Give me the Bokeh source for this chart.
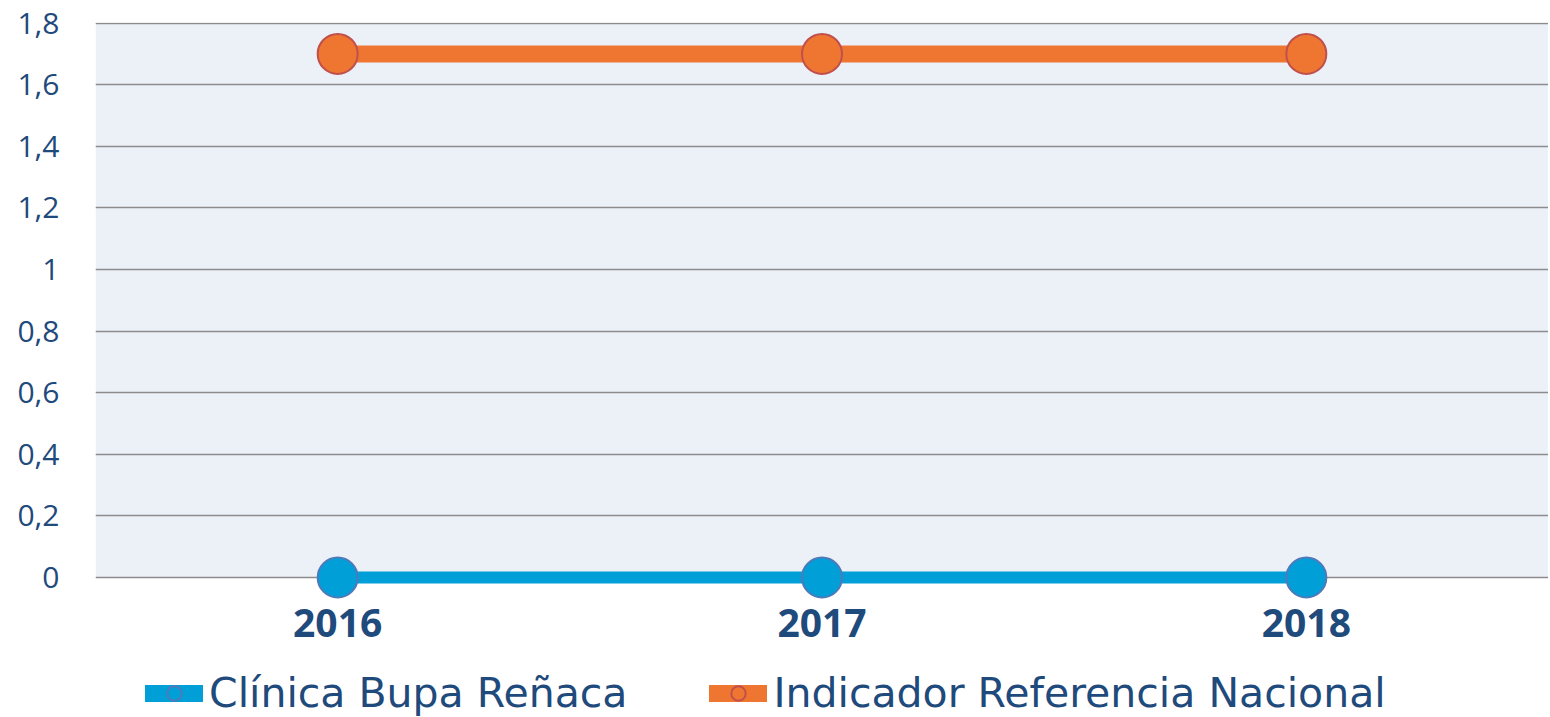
from bokeh.plotting import figure
from bokeh.layouts import column
from bokeh.models import Range1d, FixedTicker, BoxAnnotation, Legend, LegendItem, ColumnDataSource
from bokeh.embed import file_html
from bokeh.resources import INLINE

years = ["2016", "2017", "2018"]
clinica = [0, 0, 0]
referencia = [1.7, 1.7, 1.7]
y_ticks = [0, 0.2, 0.4, 0.6, 0.8, 1, 1.2, 1.4, 1.6, 1.8]
y_labels = ["0", "0,2", "0,4", "0,6", "0,8", "1", "1,2", "1,4", "1,6", "1,8"]
names = ["Clínica Bupa Reñaca", "Indicador Referencia Nacional"]

FONT = "Open Sans"
TXT = "#1F4A7C"
BLUE = "#009FD8"
ORANGE = "#EE7630"
BLUE_EDGE = "#4F79B9"
ORANGE_EDGE = "#C0504D"

p = figure(frame_width=1453, frame_height=578, x_range=years, y_range=Range1d(-0.0746, 1.802),
           output_backend="svg", toolbar_location=None,
           min_border_left=95, min_border_right=0, min_border_top=22, min_border_bottom=53)
p.outline_line_color = None
p.background_fill_color = "white"
p.add_layout(BoxAnnotation(bottom=0, top=1.8, fill_color="#ECF1F8", fill_alpha=1,
                           line_color=None, level="image"))

p.xgrid.grid_line_color = None
p.ygrid.grid_line_color = "#8C8C8C"
p.ygrid.grid_line_width = 1.6
p.yaxis.ticker = FixedTicker(ticks=y_ticks)
p.yaxis.major_label_overrides = {t: l for t, l in zip(y_ticks, y_labels)}
for ax in (p.xaxis, p.yaxis):
    ax.axis_line_color = None
    ax.major_tick_line_color = None
    ax.minor_tick_line_color = None
    ax.major_label_text_color = TXT
    ax.major_label_text_font = FONT
p.yaxis.major_label_text_font_size = "30px"
p.yaxis.major_label_standoff = 30
p.xaxis.major_label_text_font_size = "39px"
p.xaxis.major_label_text_font_style = "bold"
p.xaxis.major_label_standoff = 2

src = ColumnDataSource(dict(x=years, c=clinica, r=referencia))
p.line("x", "c", source=src, line_color=BLUE, line_width=12)
p.scatter("x", "c", source=src, size=40, fill_color=BLUE, line_color=BLUE_EDGE, line_width=2)
p.line("x", "r", source=src, line_color=ORANGE, line_width=17)
p.scatter("x", "r", source=src, size=40, fill_color=ORANGE, line_color=ORANGE_EDGE, line_width=2)

# legend strip below the chart (its series sit outside its visible range; only the legend shows)
lg = figure(frame_width=1548, frame_height=64, x_range=years, y_range=Range1d(5, 6),
            x_axis_type=None, y_axis_type=None, output_backend="svg", toolbar_location=None,
            min_border=0)
lg.outline_line_color = None
g1 = lg.line("x", "c", source=src, line_color=BLUE, line_width=17, line_cap="round")
m1 = lg.scatter("x", "c", source=src, size=24, fill_color=BLUE, line_color=BLUE_EDGE, line_width=2)
g2 = lg.line("x", "r", source=src, line_color=ORANGE, line_width=17, line_cap="round")
m2 = lg.scatter("x", "r", source=src, size=24, fill_color=ORANGE, line_color=ORANGE_EDGE, line_width=2)

legend = Legend(items=[LegendItem(label=names[0], renderers=[g1, m1]),
                       LegendItem(label=names[1], renderers=[g2, m2])],
                orientation="horizontal", location=(145, 0),
                label_text_font="DejaVu Sans", label_text_font_size="41px", label_text_color=TXT,
                glyph_width=58, glyph_height=36, spacing=82, label_standoff=6,
                border_line_color=None, background_fill_alpha=0, padding=0, margin=0)
lg.add_layout(legend, "center")

open("out.html", "w").write(file_html(column(p, lg, spacing=0), INLINE))
